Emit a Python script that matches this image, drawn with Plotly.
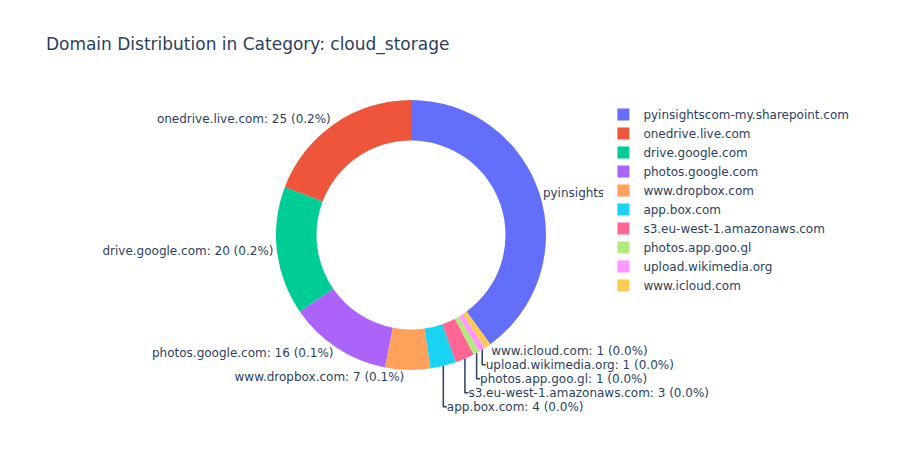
import plotly.graph_objects as go

domains = [
    "pyinsightscom-my.sharepoint.com",
    "onedrive.live.com",
    "drive.google.com",
    "photos.google.com",
    "www.dropbox.com",
    "app.box.com",
    "s3.eu-west-1.amazonaws.com",
    "photos.app.goo.gl",
    "upload.wikimedia.org",
    "www.icloud.com",
]
counts = [52, 25, 20, 16, 7, 4, 3, 1, 1, 1]
pct_of_all = ["0.4", "0.2", "0.2", "0.1", "0.1", "0.0", "0.0", "0.0", "0.0", "0.0"]

fig = go.Figure(
    go.Pie(
        labels=domains,
        values=counts,
        customdata=pct_of_all,
        hole=0.7,
        textposition="outside",
        texttemplate="%{label}: %{value} (%{customdata}%)",
    )
)
fig.update_layout(
    template="plotly",
    font=dict(family="Verdana, DejaVu Sans, sans-serif"),
    title=dict(text="Domain Distribution in Category: cloud_storage"),
    width=918,
    height=450,
)
fig.write_html(
    "out.html",
    config={"displayModeBar": False},
    post_script="document.body.style.margin='0';",
)
